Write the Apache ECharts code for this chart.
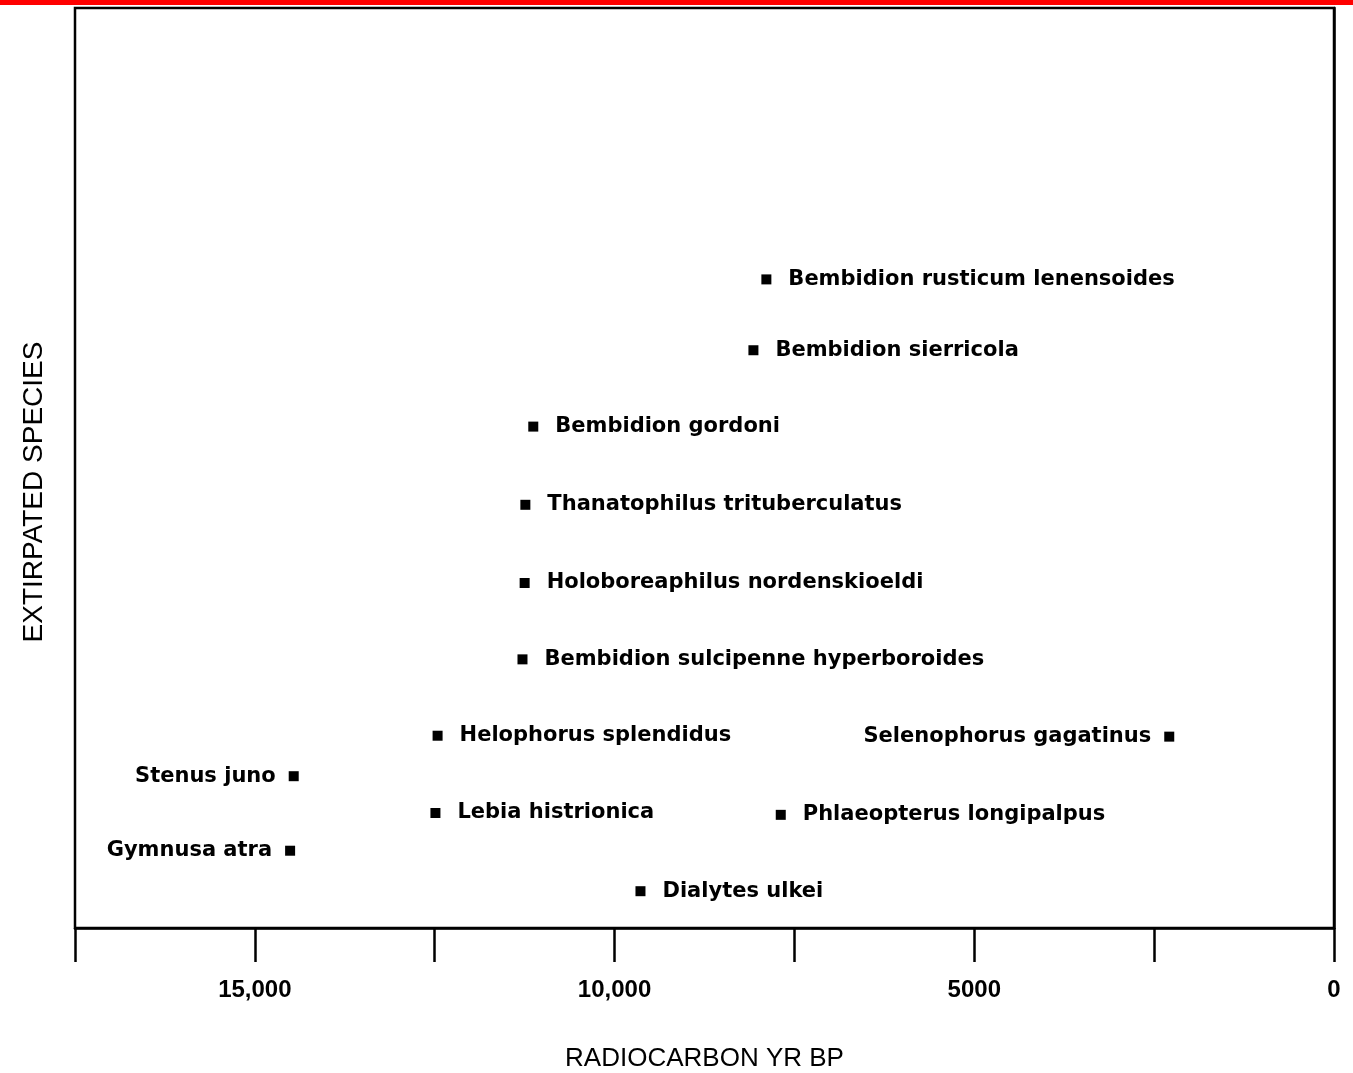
<!DOCTYPE html>
<html><head><meta charset="utf-8">
<script src="https://cdn.jsdelivr.net/npm/echarts@6/dist/echarts.min.js"></script>
<style>html,body{margin:0;padding:0;background:#fff}#c{width:1353px;height:1073px}</style>
</head><body><div id="c"></div>
<script>
const species = ['Bembidion rusticum lenensoides','Bembidion sierricola','Bembidion gordoni','Thanatophilus trituberculatus','Holoboreaphilus nordenskioeldi','Bembidion sulcipenne hyperboroides','Helophorus splendidus','Selenophorus gagatinus','Stenus juno','Lebia histrionica','Phlaeopterus longipalpus','Gymnusa atra','Dialytes ulkei'];
const ageBP = [7890, 8070, 11130, 11240, 11250, 11280, 12460, 2290, 14460, 12490, 7690, 14510, 9640];
const rowPos = [70.5, 62.8, 54.5, 46.0, 37.5, 29.2, 20.9, 20.8, 16.5, 12.5, 12.3, 8.4, 4.0];
const labelSide = ['right','right','right','right','right','right','right','left','left','right','right','left','right'];
const xTickLabels = {0:'0',5000:'5000',10000:'10,000',15000:'15,000'};

const chart = echarts.init(document.getElementById('c'), null, {renderer:'canvas'});
const font = 'DejaVu Sans, Liberation Sans, Arial, sans-serif';
const titleFont = 'Liberation Sans, Arial, sans-serif';
const data = species.map((s,i)=>({
  name:s, value:[ageBP[i], rowPos[i]],
  label:{position:labelSide[i], distance: labelSide[i]==='right' ? 17 : 13}
}));
chart.setOption({
  animation:false,
  backgroundColor:'#fff',
  grid:{left:75, right:19, top:8, bottom:145, outerBoundsMode:'none', containLabel:false,
    show:true, borderColor:'#000', borderWidth:2.5, backgroundColor:'transparent'},
  xAxis:{type:'value', inverse:true, min:0, max:17500, interval:2500,
    axisLine:{show:true, lineStyle:{color:'#000', width:2.5}},
    axisTick:{show:true, length:34, lineStyle:{color:'#000', width:2.5}},
    splitLine:{show:false},
    axisLabel:{margin:50, color:'#000', fontFamily:titleFont, fontSize:24, fontWeight:'bold',
      formatter:v=>xTickLabels[v]!==undefined?xTickLabels[v]:''},
    name:'RADIOCARBON YR BP', nameLocation:'middle', nameGap:118,
    nameTextStyle:{color:'#000', fontFamily:titleFont, fontSize:26}
  },
  yAxis:{type:'value', min:0, max:100,
    axisLine:{show:true, lineStyle:{color:'#000', width:2.5}},
    axisTick:{show:false}, axisLabel:{show:false}, splitLine:{show:false}
  },
  graphic:[
    {type:'rect', left:0, top:0, shape:{width:1353, height:5}, style:{fill:'#ff0000'}},
    {type:'text', x:34, y:492, rotation:Math.PI/2,
      style:{text:'EXTIRPATED SPECIES', fill:'#000', font:'28px '+titleFont, textAlign:'center', textVerticalAlign:'middle'}}
  ],
  series:[{type:'scatter', symbol:'rect', symbolSize:10, itemStyle:{color:'#000', opacity:1},
    data:data,
    label:{show:true, formatter:'{b}', color:'#000', fontFamily:font, fontSize:21, fontWeight:'bold'}
  }]
});
</script></body></html>
